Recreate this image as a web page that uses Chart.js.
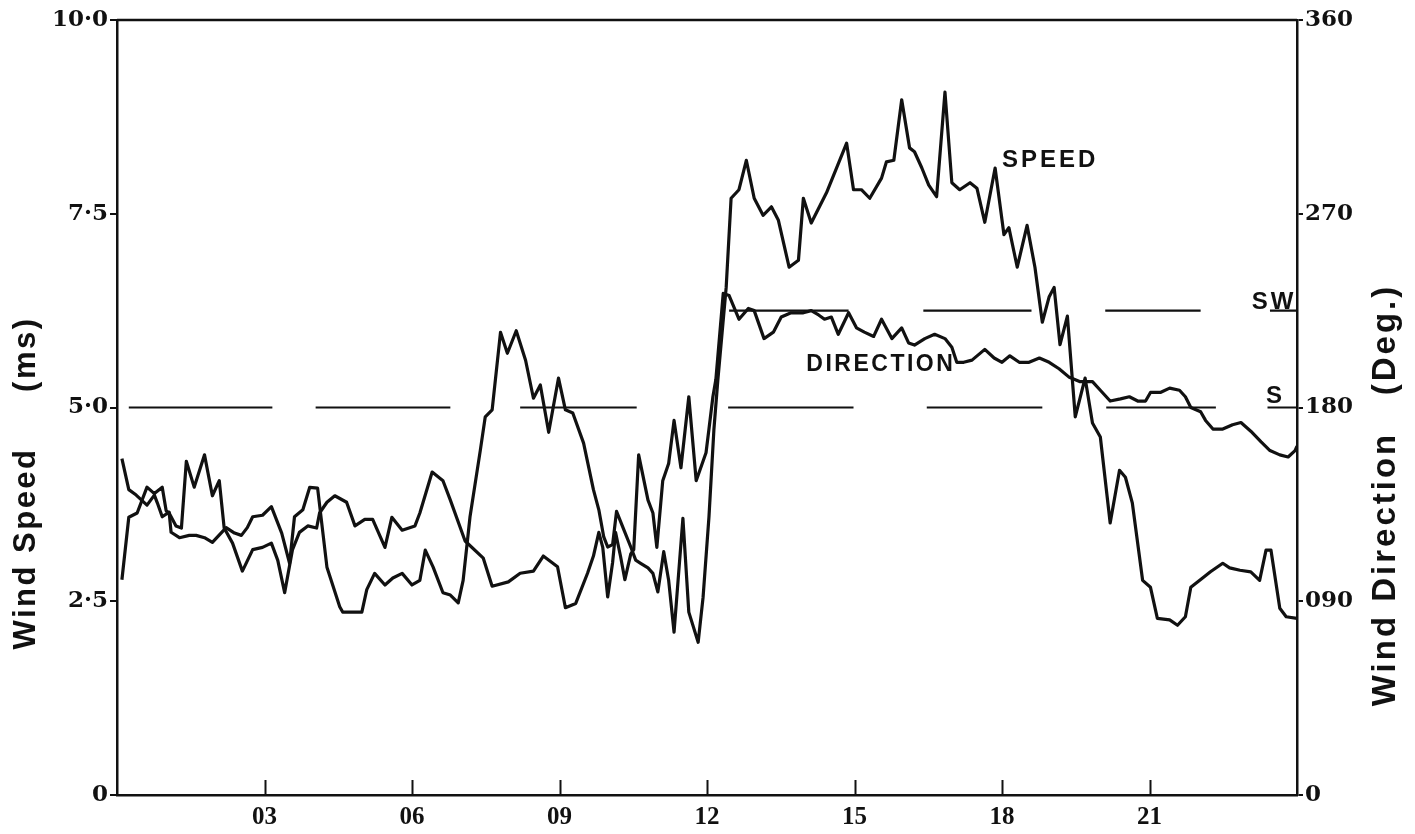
<!DOCTYPE html>
<html>
<head>
<meta charset="utf-8">
<script src="https://cdn.jsdelivr.net/npm/chart.js@4.4.1/dist/chart.umd.min.js"></script>
<style>
  html, body { margin: 0; padding: 0; background: #fff; }
  #wrap { width: 1415px; height: 834px; }
</style>
</head>
<body>
<div id="wrap"><canvas id="windChart" width="1415" height="834"></canvas></div>
<script>
// wind speed (m/s, left axis) against hour of day
const speedHours = [0.10, 0.24, 0.39, 0.61, 0.76, 0.82, 0.92, 1.06, 1.10, 1.27, 1.47, 1.61, 1.78, 1.94, 2.22, 2.39, 2.53, 2.65, 2.76, 2.96,
    3.14, 3.35, 3.51, 3.61, 3.78, 3.92, 4.08, 4.27, 4.53, 4.59, 4.98, 5.08, 5.24, 5.45, 5.61, 5.80, 6.00, 6.16, 6.27, 6.43,
    6.63, 6.78, 6.94, 7.04, 7.18, 7.39, 7.49, 7.63, 7.80, 7.94, 8.12, 8.31, 8.47, 8.61, 8.78, 8.98, 9.12, 9.27, 9.49, 9.69,
    9.80, 9.90, 9.98, 10.08, 10.16, 10.31, 10.45, 10.55, 10.65, 10.80, 10.90, 11.00, 11.12, 11.22, 11.33, 11.51, 11.63, 11.82, 11.92, 12.04,
    12.14, 12.22, 12.39, 12.49, 12.65, 12.80, 12.96, 13.14, 13.31, 13.45, 13.67, 13.86, 13.96, 14.12, 14.43, 14.84, 14.98, 15.14, 15.31, 15.55,
    15.65, 15.80, 15.96, 16.12, 16.22, 16.37, 16.51, 16.67, 16.84, 16.98, 17.14, 17.35, 17.49, 17.65, 17.86, 18.04, 18.14, 18.31, 18.51, 18.67,
    18.82, 18.96, 19.06, 19.18, 19.33, 19.49, 19.69, 19.84, 20.00, 20.20, 20.39, 20.51, 20.65, 20.86, 21.02, 21.16, 21.41, 21.57, 21.73, 21.84,
    22.08, 22.24, 22.49, 22.63, 22.84, 23.06, 23.24, 23.37, 23.47, 23.65, 23.78, 24.00];
const speedValues = [4.34, 3.94, 3.87, 3.74, 3.87, 3.77, 3.59, 3.65, 3.39, 3.32, 3.35, 3.35, 3.32, 3.26, 3.45, 3.38, 3.35, 3.45, 3.59, 3.61,
    3.72, 3.38, 2.99, 3.59, 3.68, 3.97, 3.96, 2.94, 2.43, 2.36, 2.36, 2.65, 2.86, 2.71, 2.80, 2.86, 2.71, 2.77, 3.16, 2.94,
    2.61, 2.58, 2.48, 2.77, 3.59, 4.45, 4.88, 4.97, 5.97, 5.70, 5.99, 5.61, 5.12, 5.29, 4.68, 5.38, 4.97, 4.93, 4.54, 3.94,
    3.68, 3.33, 3.20, 3.23, 3.66, 3.42, 3.20, 3.03, 2.99, 2.93, 2.86, 2.62, 3.14, 2.77, 2.10, 3.57, 2.36, 1.97, 2.55, 3.59,
    4.71, 5.35, 6.55, 7.70, 7.81, 8.19, 7.70, 7.48, 7.59, 7.42, 6.81, 6.90, 7.70, 7.38, 7.77, 8.41, 7.81, 7.81, 7.70, 7.96,
    8.17, 8.19, 8.97, 8.35, 8.30, 8.09, 7.87, 7.72, 9.07, 7.90, 7.81, 7.90, 7.83, 7.39, 8.09, 7.23, 7.32, 6.81, 7.35, 6.81,
    6.10, 6.43, 6.55, 5.81, 6.18, 4.88, 5.38, 4.80, 4.62, 3.51, 4.19, 4.10, 3.77, 2.77, 2.68, 2.28, 2.26, 2.19, 2.30, 2.68,
    2.80, 2.88, 2.99, 2.93, 2.90, 2.88, 2.77, 3.16, 3.16, 2.41, 2.30, 2.28];

// wind direction (degrees, right axis) against hour of day
const dirHours = [0.10, 0.24, 0.41, 0.61, 0.76, 0.92, 1.00, 1.06, 1.20, 1.31, 1.41, 1.57, 1.78, 1.94, 2.08, 2.18, 2.35, 2.55, 2.76, 2.96,
    3.14, 3.27, 3.41, 3.57, 3.71, 3.88, 4.06, 4.12, 4.27, 4.43, 4.67, 4.84, 5.04, 5.20, 5.45, 5.59, 5.80, 6.06, 6.16, 6.41,
    6.63, 6.78, 7.08, 7.45, 7.63, 7.96, 8.20, 8.47, 8.67, 8.96, 9.12, 9.33, 9.57, 9.69, 9.80, 9.88, 9.98, 10.08, 10.14, 10.24,
    10.33, 10.45, 10.51, 10.61, 10.80, 10.90, 10.98, 11.10, 11.22, 11.33, 11.47, 11.63, 11.78, 11.98, 12.04, 12.12, 12.18, 12.33, 12.45, 12.65,
    12.84, 12.96, 13.16, 13.35, 13.51, 13.71, 13.96, 14.12, 14.27, 14.39, 14.53, 14.67, 14.88, 15.04, 15.20, 15.39, 15.55, 15.76, 15.96, 16.10,
    16.22, 16.43, 16.63, 16.84, 16.98, 17.08, 17.22, 17.39, 17.65, 17.84, 18.00, 18.16, 18.35, 18.55, 18.76, 18.96, 19.16, 19.37, 19.59, 19.84,
    20.00, 20.20, 20.41, 20.59, 20.76, 20.92, 21.02, 21.22, 21.41, 21.61, 21.73, 21.84, 22.04, 22.14, 22.29, 22.49, 22.69, 22.86, 23.06, 23.27,
    23.45, 23.65, 23.82, 23.96, 24.00];
const dirValues = [100, 129, 131, 143, 140, 143, 132, 131, 125, 124, 155, 143, 158, 139, 146, 124, 117, 104, 114, 115,
    117, 109, 94, 114, 122, 125, 124, 131, 136, 139, 136, 125, 128, 128, 115, 129, 123, 125, 131, 150,
    146, 137, 118, 110, 97, 99, 103, 104, 111, 106, 87, 89, 103, 111, 122, 115, 92, 108, 122, 111,
    100, 112, 114, 158, 137, 131, 115, 146, 154, 174, 152, 185, 146, 159, 170, 185, 193, 233, 232, 221,
    226, 225, 212, 215, 222, 224, 224, 225, 223, 221, 222, 214, 224, 217, 215, 213, 221, 212, 217, 210,
    209, 212, 214, 212, 208, 201, 201, 202, 207, 203, 201, 204, 201, 201, 203, 201, 198, 194, 192, 192,
    188, 183, 184, 185, 183, 183, 187, 187, 189, 188, 185, 180, 178, 174, 170, 170, 172, 173, 169, 164,
    160, 158, 157, 160, 162];

// dashed reference lines: S (180 deg) and SW (225 deg), drawn in pieces [from hour, to hour]
const southLevel = 180;
const southPieces = [[0.24, 3.16], [4.04, 6.78], [8.20, 10.57], [12.43, 14.98], [16.47, 18.82], [20.12, 22.35], [23.40, 24.00]];
const swLevel = 225;
const swPieces = [[12.45, 14.88], [16.40, 18.60], [20.10, 22.04], [23.45, 24.00]];

const xTickHours = [3, 6, 9, 12, 15, 18, 21];
const xTickLabels = ['03', '06', '09', '12', '15', '18', '21'];
const speedTicks = [0, 2.5, 5, 7.5, 10];
const speedTickLabels = ['0', '2·5', '5·0', '7·5', '10·0'];
const dirTicks = [0, 90, 180, 270, 360];
const dirTickLabels = ['0', '090', '180', '270', '360'];

const toPoints = (xs, ys) => xs.map((x, i) => ({ x: x, y: ys[i] }));

//pieces of a dashed line, separated by null gaps
const piecesToPoints = (pieces, level) => {
    let pts = [];
    pieces.forEach((p, i) => {
        if (i > 0) pts.push({ x: (pieces[i - 1][1] + p[0]) / 2, y: null });
        pts.push({ x: p[0], y: level }, { x: p[1], y: level });
    });
    return pts;
};

const ink = '#111';

//text in the plot: curve names and compass marks
const plotTexts = [
    { text: 'SPEED', hour: 18.0, speed: 8.19, size: 24, spacing: 3 },
    { text: 'DIRECTION', hour: 14.02, speed: 5.55, size: 23, spacing: 2.5 },
    { text: 'SW', hour: 23.08, speed: 6.36, size: 24, spacing: 3 },
    { text: 'S', hour: 23.37, speed: 5.14, size: 24, spacing: 0 }
];

const drawTitle = (ctx, text, x, y, size, spacing) => {
    ctx.save();
    ctx.font = 'bold ' + size + 'px "Liberation Sans", Arial, sans-serif';
    ctx.letterSpacing = spacing + 'px';
    ctx.textAlign = 'center';
    ctx.textBaseline = 'middle';
    ctx.translate(x, y);
    ctx.rotate(-Math.PI / 2);
    ctx.fillText(text, 0, 0);
    ctx.restore();
};

const framePlugin = {
    id: 'frameAndText',
    afterDatasetsDraw(chart) {
        const ctx = chart.ctx;
        const area = chart.chartArea;
        const xs = chart.scales.x;
        const ys = chart.scales.y;
        ctx.save();
        ctx.strokeStyle = ink;
        ctx.lineWidth = 2.5;
        // top edge of the frame
        ctx.beginPath();
        ctx.moveTo(area.left, area.top);
        ctx.lineTo(area.right, area.top);
        ctx.stroke();
        // hour ticks point up into the plot
        ctx.lineWidth = 2;
        xTickHours.forEach(h => {
            const px = Math.round(xs.getPixelForValue(h)) + 0.5;
            ctx.beginPath();
            ctx.moveTo(px, area.bottom);
            ctx.lineTo(px, area.bottom - 15);
            ctx.stroke();
        });

        ctx.fillStyle = ink;
        ctx.textBaseline = 'middle';
        ctx.textAlign = 'left';
        plotTexts.forEach(t => {
            ctx.font = 'bold ' + t.size + 'px "Liberation Sans", Arial, sans-serif';
            ctx.letterSpacing = t.spacing + 'px';
            ctx.fillText(t.text, xs.getPixelForValue(t.hour), ys.getPixelForValue(t.speed));
        });
        ctx.letterSpacing = '0px';

        // axis titles
        drawTitle(ctx, 'Wind Speed     (ms)', 26, 483, 31, 2.5);
        drawTitle(ctx, 'Wind Direction   (Deg.)', 1386, 495, 33, 3);
        ctx.restore();
    }
};

const tickFont = { family: '"DejaVu Serif", serif', weight: 'bold', size: 23 };

new Chart(document.getElementById('windChart'), {
    type: 'line',
    data: {
        datasets: [
            { data: toPoints(speedHours, speedValues), yAxisID: 'y', borderColor: ink, borderWidth: 3.2, pointRadius: 0, tension: 0, borderJoinStyle: 'round' },
            { data: toPoints(dirHours, dirValues), yAxisID: 'y2', borderColor: ink, borderWidth: 3.2, pointRadius: 0, tension: 0, borderJoinStyle: 'round' },
            { data: piecesToPoints(southPieces, southLevel), yAxisID: 'y2', borderColor: ink, borderWidth: 2.2, pointRadius: 0, spanGaps: false },
            { data: piecesToPoints(swPieces, swLevel), yAxisID: 'y2', borderColor: ink, borderWidth: 2.2, pointRadius: 0, spanGaps: false }
        ]
    },
    options: {
        responsive: false,
        animation: false,
        devicePixelRatio: 1,
        layout: { padding: { top: 20, left: 0, right: 0, bottom: 0 } },
        plugins: { legend: { display: false }, tooltip: { enabled: false } },
        scales: {
            x: {
                type: 'linear', min: 0, max: 24,
                afterBuildTicks: s => { s.ticks = xTickHours.map(v => ({ value: v })); },
                afterFit: s => { s.height = 39; },
                ticks: {
                    color: ink, padding: 8,
                    font: { family: '"Liberation Serif", serif', weight: 'bold', size: 25 },
                    callback: v => xTickLabels[xTickHours.indexOf(v)]
                },
                grid: { display: true, drawOnChartArea: false, drawTicks: false, color: 'rgba(0,0,0,0)' },
                border: { display: true, color: ink, width: 2.5 }
            },
            y: {
                position: 'left', min: 0, max: 10,
                afterBuildTicks: s => { s.ticks = speedTicks.map(v => ({ value: v })); },
                afterFit: s => { s.width = 117; },
                ticks: { color: ink, padding: 2, font: tickFont, callback: v => speedTickLabels[speedTicks.indexOf(v)] },
                grid: { drawOnChartArea: false, drawTicks: true, tickLength: 7, color: ink, lineWidth: 2 },
                border: { display: true, color: ink, width: 2.5 }
            },
            y2: {
                position: 'right', min: 0, max: 360,
                afterBuildTicks: s => { s.ticks = dirTicks.map(v => ({ value: v })); },
                afterFit: s => { s.width = 118; },
                ticks: { color: ink, padding: 2, font: tickFont, callback: v => dirTickLabels[dirTicks.indexOf(v)] },
                grid: { drawOnChartArea: false, drawTicks: true, tickLength: 6, color: ink, lineWidth: 2 },
                border: { display: true, color: ink, width: 2.5 }
            }
        }
    },
    plugins: [framePlugin]
});
</script>
</body>
</html>
